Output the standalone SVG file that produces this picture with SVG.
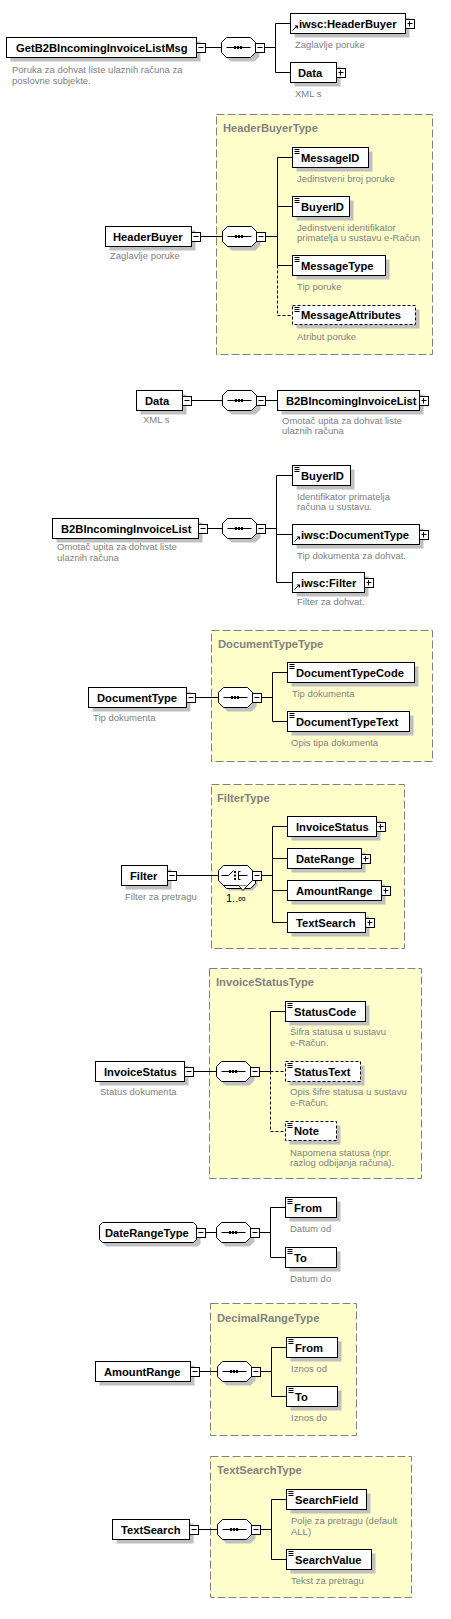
<svg xmlns="http://www.w3.org/2000/svg" xmlns:xlink="http://www.w3.org/1999/xlink" width="451" height="1619" viewBox="0 0 451 1619">
<style>
.bx{fill:#fff;stroke:#000;stroke-width:1}
.op{fill:#fff;stroke:#000;stroke-width:1;stroke-dasharray:3,2}
.sh{fill:#c0c0c0;stroke:none}
.tb{fill:#ffffcc;stroke:#808080;stroke-width:1;stroke-dasharray:8,3}
.nm{font-family:"Liberation Sans",Arial,sans-serif;font-weight:bold;font-size:11.2px;fill:#000}
.ty{font-family:"Liberation Sans",Arial,sans-serif;font-weight:bold;font-size:11.2px;fill:#808080}
.ds{font-family:"Liberation Sans",Arial,sans-serif;font-size:9.5px;fill:#808080}
.oc{font-family:"Liberation Sans",Arial,sans-serif;font-size:11px;fill:#000}
#conn path{fill:none;stroke:#000;stroke-width:1}
#conn path.d{stroke-dasharray:3,2}
</style>
<defs>
<polygon id="oct" points="5,0 29,0 34,5 34,15 29,20 5,20 0,15 0,5"/>
<g id="seq">
<use xlink:href="#oct" x="4" y="4" fill="#c0c0c0"/>
<use xlink:href="#oct" fill="#fff" stroke="#000"/>
<path d="M5,10H29" stroke="#000" fill="none"/>
<rect x="12.5" y="8.5" width="2" height="3" fill="#000"/>
<rect x="15.5" y="8.5" width="2" height="3" fill="#000"/>
<rect x="18.5" y="8.5" width="2" height="3" fill="#000"/>
</g>
<g id="mn"><rect x="0" y="-4" width="9" height="9" fill="#fff" stroke="#000"/><path d="M2,0H7" stroke="#000"/></g>
<g id="pl"><rect x="0" y="-4" width="9" height="9" fill="#fff" stroke="#000"/><path d="M2,0H7M4,-2.5V3" stroke="#000"/></g>
<path id="ei" d="M2,2H7M2,4H7M2,6H7" stroke="#000" fill="none"/>
<g id="ri"><path d="M2,17L6,13" stroke="#000" fill="none"/><path d="M4,12L7.5,12L7.5,15.5Z" fill="#000"/></g>
</defs>

<!-- complex type frames -->
<g id="HeaderBuyerType">
<rect class="tb" x="216.5" y="114.5" width="216" height="240"/>
<text class="ty" x="223" y="132">HeaderBuyerType</text>
</g>
<g id="DocumentTypeType">
<rect class="tb" x="211.5" y="630.5" width="221" height="131"/>
<text class="ty" x="218" y="647.5">DocumentTypeType</text>
</g>
<g id="FilterType">
<rect class="tb" x="211.5" y="784.5" width="193" height="164"/>
<text class="ty" x="217" y="802">FilterType</text>
</g>
<g id="InvoiceStatusType">
<rect class="tb" x="209.5" y="968.5" width="212" height="210"/>
<text class="ty" x="216" y="986">InvoiceStatusType</text>
</g>
<g id="DecimalRangeType">
<rect class="tb" x="210.5" y="1303.5" width="146" height="132"/>
<text class="ty" x="217" y="1321.5">DecimalRangeType</text>
</g>
<g id="TextSearchType">
<rect class="tb" x="210.5" y="1456.5" width="201" height="141"/>
<text class="ty" x="217" y="1474">TextSearchType</text>
</g>

<g id="conn">
<path d="M205.5,47.5H221.5M264.5,47.5H275.5M275.5,23.5V72.5M275.5,23.5H290.5M275.5,72.5H290.5"/>
<path d="M200.5,236.5H222.5M265.5,236.5H277.5M277.5,157.5V265.5M277.5,157.5H292.5M277.5,206.5H292.5M277.5,265.5H292.5"/>
<path class="d" d="M277.5,265.5V315.5H292.5"/>
<path d="M191.5,400.5H222.5M265.5,400.5H277.5"/>
<path d="M207.5,528.5H222.5M265.5,528.5H276.5M276.5,475.5V582.5M276.5,475.5H292.5M276.5,534.5H292.5M276.5,582.5H292.5"/>
<path d="M195.5,697.5H218.5M261.5,697.5H272.5M272.5,672.5V721.5M272.5,672.5H287.5M272.5,721.5H287.5"/>
<path d="M176.5,875.5H218.5M261.5,875.5H272.5M272.5,826.5V922.5M272.5,826.5H287.5M272.5,858.5H287.5M272.5,890.5H287.5M272.5,922.5H287.5"/>
<path d="M193.5,1071.5H216.5M259.5,1071.5H270.5M270.5,1011.5V1071.5M270.5,1011.5H285.5"/>
<path class="d" d="M270.5,1071.5V1131.5H285.5M270.5,1071.5H285.5"/>
<path d="M205.5,1232.5H216.5M259.5,1232.5H270.5M270.5,1207.5V1257.5M270.5,1207.5H285.5M270.5,1257.5H285.5"/>
<path d="M199.5,1371.5H217.5M260.5,1371.5H271.5M271.5,1347.5V1396.5M271.5,1347.5H286.5M271.5,1396.5H286.5"/>
<path d="M198.5,1529.5H217.5M260.5,1529.5H271.5M271.5,1499.5V1559.5M271.5,1499.5H286.5M271.5,1559.5H286.5"/>
</g>

<!-- Section 1 -->
<g id="GetB2BIncomingInvoiceListMsg">
<rect class="sh" x="10.5" y="41.5" width="190" height="20"/>
<rect class="bx" x="6.5" y="37.5" width="190" height="20"/>
<text class="nm" x="16" y="51.5">GetB2BIncomingInvoiceListMsg</text>
<use xlink:href="#mn" x="196.5" y="47.5"/>
<text class="ds" x="12" y="73">Poruka za dohvat liste ulaznih računa za</text>
<text class="ds" x="12" y="83.5">poslovne subjekte.</text>
</g>
<g id="seq1"><use xlink:href="#seq" x="221.5" y="37.5"/><use xlink:href="#mn" x="255.5" y="47.5"/></g>
<g id="ref-HeaderBuyer">
<rect class="sh" x="294.5" y="17.5" width="115" height="20"/>
<rect class="bx" x="290.5" y="13.5" width="115" height="20"/>
<use xlink:href="#ri" x="290.5" y="13.5"/>
<text class="nm" x="299" y="27.5">iwsc:HeaderBuyer</text>
<use xlink:href="#pl" x="405.5" y="23.5"/>
<text class="ds" x="295" y="47.5">Zaglavlje poruke</text>
</g>
<g id="Data1">
<rect class="sh" x="294.5" y="66.5" width="46" height="20"/>
<rect class="bx" x="290.5" y="62.5" width="46" height="20"/>
<text class="nm" x="298" y="76.5">Data</text>
<use xlink:href="#pl" x="336.5" y="72.5"/>
<text class="ds" x="295" y="96.5">XML s</text>
</g>

<!-- Section 2 -->
<g id="HeaderBuyer">
<rect class="sh" x="109.5" y="230.5" width="86" height="20"/>
<rect class="bx" x="105.5" y="226.5" width="86" height="20"/>
<text class="nm" x="113" y="240.5">HeaderBuyer</text>
<use xlink:href="#mn" x="191.5" y="236.5"/>
<text class="ds" x="110" y="259">Zaglavlje poruke</text>
</g>
<g id="seq2"><use xlink:href="#seq" x="222.5" y="226.5"/><use xlink:href="#mn" x="256.5" y="236.5"/></g>
<g id="MessageID">
<rect class="sh" x="296.5" y="151.5" width="76" height="20"/>
<rect class="bx" x="292.5" y="147.5" width="76" height="20"/>
<use xlink:href="#ei" x="292.5" y="147.5"/>
<text class="nm" x="301" y="161.5">MessageID</text>
<text class="ds" x="297" y="181.5">Jedinstveni broj poruke</text>
</g>
<g id="BuyerID1">
<rect class="sh" x="296.5" y="200.5" width="57" height="20"/>
<rect class="bx" x="292.5" y="196.5" width="57" height="20"/>
<use xlink:href="#ei" x="292.5" y="196.5"/>
<text class="nm" x="301" y="210.5">BuyerID</text>
<text class="ds" x="297" y="230.5">Jedinstveni identifikator</text>
<text class="ds" x="297" y="241">primatelja u sustavu e-Račun</text>
</g>
<g id="MessageType">
<rect class="sh" x="296.5" y="259.5" width="93" height="20"/>
<rect class="bx" x="292.5" y="255.5" width="93" height="20"/>
<use xlink:href="#ei" x="292.5" y="255.5"/>
<text class="nm" x="301" y="269.5">MessageType</text>
<text class="ds" x="297" y="290">Tip poruke</text>
</g>
<g id="MessageAttributes">
<rect class="sh" x="296.5" y="309.5" width="123" height="19"/>
<rect class="op" x="292.5" y="305.5" width="123" height="19"/>
<use xlink:href="#ei" x="292.5" y="305.5"/>
<text class="nm" x="301" y="319">MessageAttributes</text>
<text class="ds" x="297" y="339.5">Atribut poruke</text>
</g>

<!-- Section 3 -->
<g id="Data">
<rect class="sh" x="140.5" y="394.5" width="46" height="20"/>
<rect class="bx" x="136.5" y="390.5" width="46" height="20"/>
<text class="nm" x="145" y="404.5">Data</text>
<use xlink:href="#mn" x="182.5" y="400.5"/>
<text class="ds" x="143" y="423">XML s</text>
</g>
<g id="seq3"><use xlink:href="#seq" x="222.5" y="390.5"/><use xlink:href="#mn" x="256.5" y="400.5"/></g>
<g id="B2BIncomingInvoiceList1">
<rect class="sh" x="281.5" y="394.5" width="142" height="20"/>
<rect class="bx" x="277.5" y="390.5" width="142" height="20"/>
<text class="nm" x="286" y="404.5">B2BIncomingInvoiceList</text>
<use xlink:href="#pl" x="419.5" y="400.5"/>
<text class="ds" x="282" y="423.5">Omotač upita za dohvat liste</text>
<text class="ds" x="282" y="434">ulaznih računa</text>
</g>

<!-- Section 3b -->
<g id="B2BIncomingInvoiceList">
<rect class="sh" x="56.5" y="522.5" width="146" height="20"/>
<rect class="bx" x="52.5" y="518.5" width="146" height="20"/>
<text class="nm" x="61" y="532.5">B2BIncomingInvoiceList</text>
<use xlink:href="#mn" x="198.5" y="528.5"/>
<text class="ds" x="57" y="550">Omotač upita za dohvat liste</text>
<text class="ds" x="57" y="560.5">ulaznih računa</text>
</g>
<g id="seq4"><use xlink:href="#seq" x="222.5" y="518.5"/><use xlink:href="#mn" x="256.5" y="528.5"/></g>
<g id="BuyerID">
<rect class="sh" x="296.5" y="469.5" width="58" height="20"/>
<rect class="bx" x="292.5" y="465.5" width="58" height="20"/>
<use xlink:href="#ei" x="292.5" y="465.5"/>
<text class="nm" x="301" y="479.5">BuyerID</text>
<text class="ds" x="297" y="499.5">Identifikator primatelja</text>
<text class="ds" x="297" y="510">računa u sustavu.</text>
</g>
<g id="ref-DocumentType">
<rect class="sh" x="296.5" y="528.5" width="127" height="20"/>
<rect class="bx" x="292.5" y="524.5" width="127" height="20"/>
<use xlink:href="#ri" x="292.5" y="524.5"/>
<text class="nm" x="301" y="538.5">iwsc:DocumentType</text>
<use xlink:href="#pl" x="419.5" y="534.5"/>
<text class="ds" x="297" y="558.5">Tip dokumenta za dohvat.</text>
</g>
<g id="ref-Filter">
<rect class="sh" x="296.5" y="576.5" width="72" height="20"/>
<rect class="bx" x="292.5" y="572.5" width="72" height="20"/>
<use xlink:href="#ri" x="292.5" y="572.5"/>
<text class="nm" x="301" y="586.5">iwsc:Filter</text>
<use xlink:href="#pl" x="364.5" y="582.5"/>
<text class="ds" x="297" y="605">Filter za dohvat.</text>
</g>

<!-- Section 4 -->
<g id="DocumentType">
<rect class="sh" x="92.5" y="691.5" width="98" height="20"/>
<rect class="bx" x="88.5" y="687.5" width="98" height="20"/>
<text class="nm" x="97" y="701.5">DocumentType</text>
<use xlink:href="#mn" x="186.5" y="697.5"/>
<text class="ds" x="93" y="721">Tip dokumenta</text>
</g>
<g id="seq5"><use xlink:href="#seq" x="218.5" y="687.5"/><use xlink:href="#mn" x="252.5" y="697.5"/></g>
<g id="DocumentTypeCode">
<rect class="sh" x="291.5" y="666.5" width="127" height="20"/>
<rect class="bx" x="287.5" y="662.5" width="127" height="20"/>
<use xlink:href="#ei" x="287.5" y="662.5"/>
<text class="nm" x="296" y="676.5">DocumentTypeCode</text>
<text class="ds" x="292" y="696.5">Tip dokumenta</text>
</g>
<g id="DocumentTypeText">
<rect class="sh" x="291.5" y="715.5" width="122" height="20"/>
<rect class="bx" x="287.5" y="711.5" width="122" height="20"/>
<use xlink:href="#ei" x="287.5" y="711.5"/>
<text class="nm" x="296" y="725.5">DocumentTypeText</text>
<text class="ds" x="291" y="745.5">Opis tipa dokumenta</text>
</g>

<!-- Section 5 -->
<g id="Filter">
<rect class="sh" x="125.5" y="869.5" width="46" height="20"/>
<rect class="bx" x="121.5" y="865.5" width="46" height="20"/>
<text class="nm" x="130" y="879.5">Filter</text>
<use xlink:href="#mn" x="167.5" y="875.5"/>
<text class="ds" x="125" y="900">Filter za pretragu</text>
</g>
<g id="choice">
<use xlink:href="#oct" x="223.5" y="870.5" fill="#c0c0c0"/>
<use xlink:href="#oct" x="221.5" y="868.5" fill="#fff" stroke="#000"/>
<use xlink:href="#oct" x="218.5" y="865.5" fill="#fff" stroke="#000"/>
<path d="M238.5,885.5L243,890.5L247.5,885.5" fill="#fff" stroke="#000"/>
<path d="M221.5,875.5H228.5L233.5,870.5M238.5,871.5V879.5M238.5,871.5H240.5M238.5,879.5H240.5M238.5,875.5H247.5" fill="none" stroke="#000"/>
<rect x="234" y="871" width="2" height="2"/>
<rect x="234" y="874.5" width="2" height="2"/>
<rect x="234" y="878" width="2" height="2"/>
<use xlink:href="#mn" x="252.5" y="875.5"/>
<text class="oc" x="226" y="902">1..∞</text>
</g>
<g id="InvoiceStatus1">
<rect class="sh" x="291.5" y="820.5" width="89" height="20"/>
<rect class="bx" x="287.5" y="816.5" width="89" height="20"/>
<text class="nm" x="296" y="830.5">InvoiceStatus</text>
<use xlink:href="#pl" x="376.5" y="826.5"/>
</g>
<g id="DateRange">
<rect class="sh" x="291.5" y="852.5" width="74" height="20"/>
<rect class="bx" x="287.5" y="848.5" width="74" height="20"/>
<text class="nm" x="296" y="862.5">DateRange</text>
<use xlink:href="#pl" x="361.5" y="858.5"/>
</g>
<g id="AmountRange1">
<rect class="sh" x="291.5" y="884.5" width="94" height="20"/>
<rect class="bx" x="287.5" y="880.5" width="94" height="20"/>
<text class="nm" x="296" y="894.5">AmountRange</text>
<use xlink:href="#pl" x="381.5" y="890.5"/>
</g>
<g id="TextSearch1">
<rect class="sh" x="291.5" y="916.5" width="78" height="20"/>
<rect class="bx" x="287.5" y="912.5" width="78" height="20"/>
<text class="nm" x="296" y="926.5">TextSearch</text>
<use xlink:href="#pl" x="365.5" y="922.5"/>
</g>

<!-- Section 6 -->
<g id="InvoiceStatus">
<rect class="sh" x="99.5" y="1065.5" width="89" height="20"/>
<rect class="bx" x="95.5" y="1061.5" width="89" height="20"/>
<text class="nm" x="104" y="1075.5">InvoiceStatus</text>
<use xlink:href="#mn" x="184.5" y="1071.5"/>
<text class="ds" x="100" y="1095">Status dokumenta</text>
</g>
<g id="seq6"><use xlink:href="#seq" x="216.5" y="1061.5"/><use xlink:href="#mn" x="250.5" y="1071.5"/></g>
<g id="StatusCode">
<rect class="sh" x="289.5" y="1005.5" width="80" height="20"/>
<rect class="bx" x="285.5" y="1001.5" width="80" height="20"/>
<use xlink:href="#ei" x="285.5" y="1001.5"/>
<text class="nm" x="294" y="1015.5">StatusCode</text>
<text class="ds" x="290" y="1035">Šifra statusa u sustavu</text>
<text class="ds" x="290" y="1045.5">e-Račun.</text>
</g>
<g id="StatusText">
<rect class="sh" x="289.5" y="1065.5" width="75" height="20"/>
<rect class="op" x="285.5" y="1061.5" width="75" height="20"/>
<use xlink:href="#ei" x="285.5" y="1061.5"/>
<text class="nm" x="294" y="1075.5">StatusText</text>
<text class="ds" x="290" y="1095">Opis šifre statusa u sustavu</text>
<text class="ds" x="290" y="1105.5">e-Račun.</text>
</g>
<g id="Note">
<rect class="sh" x="289.5" y="1125.5" width="51" height="19"/>
<rect class="op" x="285.5" y="1121.5" width="51" height="19"/>
<use xlink:href="#ei" x="285.5" y="1121.5"/>
<text class="nm" x="294" y="1135">Note</text>
<text class="ds" x="290" y="1155.5">Napomena statusa (npr.</text>
<text class="ds" x="290" y="1166">razlog odbijanja računa).</text>
</g>

<!-- Section 7 -->
<g id="DateRangeType">
<polygon class="sh" points="106.5,1226.5 197.5,1226.5 200.5,1229.5 200.5,1243.5 197.5,1246.5 106.5,1246.5 103.5,1243.5 103.5,1229.5"/>
<polygon class="bx" points="102.5,1222.5 193.5,1222.5 196.5,1225.5 196.5,1239.5 193.5,1242.5 102.5,1242.5 99.5,1239.5 99.5,1225.5"/>
<text class="nm" x="105" y="1236.5">DateRangeType</text>
<use xlink:href="#mn" x="196.5" y="1232.5"/>
</g>
<g id="seq7"><use xlink:href="#seq" x="216.5" y="1222.5"/><use xlink:href="#mn" x="250.5" y="1232.5"/></g>
<g id="From1">
<rect class="sh" x="289.5" y="1201.5" width="51" height="20"/>
<rect class="bx" x="285.5" y="1197.5" width="51" height="20"/>
<use xlink:href="#ei" x="285.5" y="1197.5"/>
<text class="nm" x="294" y="1211.5">From</text>
<text class="ds" x="290" y="1232">Datum od</text>
</g>
<g id="To1">
<rect class="sh" x="289.5" y="1251.5" width="51" height="20"/>
<rect class="bx" x="285.5" y="1247.5" width="51" height="20"/>
<use xlink:href="#ei" x="285.5" y="1247.5"/>
<text class="nm" x="294" y="1261.5">To</text>
<text class="ds" x="290" y="1281.5">Datum do</text>
</g>

<!-- Section 8 -->
<g id="AmountRange">
<rect class="sh" x="99.5" y="1365.5" width="95" height="20"/>
<rect class="bx" x="95.5" y="1361.5" width="95" height="20"/>
<text class="nm" x="104" y="1375.5">AmountRange</text>
<use xlink:href="#mn" x="190.5" y="1371.5"/>
</g>
<g id="seq8"><use xlink:href="#seq" x="217.5" y="1361.5"/><use xlink:href="#mn" x="251.5" y="1371.5"/></g>
<g id="From2">
<rect class="sh" x="290.5" y="1341.5" width="51" height="20"/>
<rect class="bx" x="286.5" y="1337.5" width="51" height="20"/>
<use xlink:href="#ei" x="286.5" y="1337.5"/>
<text class="nm" x="295" y="1351.5">From</text>
<text class="ds" x="291" y="1371.5">Iznos od</text>
</g>
<g id="To2">
<rect class="sh" x="290.5" y="1390.5" width="51" height="20"/>
<rect class="bx" x="286.5" y="1386.5" width="51" height="20"/>
<use xlink:href="#ei" x="286.5" y="1386.5"/>
<text class="nm" x="295" y="1400.5">To</text>
<text class="ds" x="291" y="1420.5">Iznos do</text>
</g>

<!-- Section 9 -->
<g id="TextSearch">
<rect class="sh" x="116.5" y="1523.5" width="77" height="20"/>
<rect class="bx" x="112.5" y="1519.5" width="77" height="20"/>
<text class="nm" x="121" y="1533.5">TextSearch</text>
<use xlink:href="#mn" x="189.5" y="1529.5"/>
</g>
<g id="seq9"><use xlink:href="#seq" x="217.5" y="1519.5"/><use xlink:href="#mn" x="251.5" y="1529.5"/></g>
<g id="SearchField">
<rect class="sh" x="290.5" y="1493.5" width="80" height="20"/>
<rect class="bx" x="286.5" y="1489.5" width="80" height="20"/>
<use xlink:href="#ei" x="286.5" y="1489.5"/>
<text class="nm" x="295" y="1503.5">SearchField</text>
<text class="ds" x="291" y="1524">Polje za pretragu (default</text>
<text class="ds" x="291" y="1534.5">ALL)</text>
</g>
<g id="SearchValue">
<rect class="sh" x="290.5" y="1553.5" width="85" height="20"/>
<rect class="bx" x="286.5" y="1549.5" width="85" height="20"/>
<use xlink:href="#ei" x="286.5" y="1549.5"/>
<text class="nm" x="295" y="1563.5">SearchValue</text>
<text class="ds" x="291" y="1583.5">Tekst za pretragu</text>
</g>
</svg>
